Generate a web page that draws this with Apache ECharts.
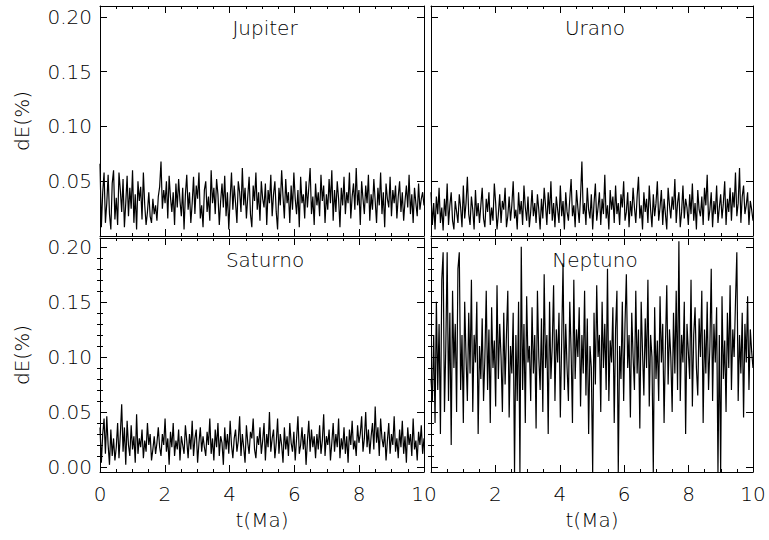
<!DOCTYPE html>
<html><head><meta charset="utf-8">
<script src="https://cdn.jsdelivr.net/npm/echarts@6/dist/echarts.min.js"></script>
<style>html,body{margin:0;padding:0;background:#fff}#c{width:769px;height:540px}</style>
</head><body><div id="c"></div>
<script>
// dE(%) sampled evenly over t = 0..10 Ma
const jupiter = [
0.066,0.008,0.040,0.058,0.012,0.030,0.056,0.020,0.006,0.048,0.060,0.015,0.035,0.010,0.058,0.042,0.022,0.052,0.008,0.030,
0.055,0.018,0.044,0.025,0.060,0.012,0.038,0.006,0.050,0.032,0.045,0.015,0.058,0.028,0.010,0.022,0.040,0.018,0.012,0.034,
0.020,0.028,0.014,0.036,0.045,0.068,0.025,0.042,0.030,0.050,0.016,0.055,0.035,0.022,0.040,0.010,0.048,0.026,0.052,0.032,
0.018,0.044,0.006,0.038,0.056,0.024,0.040,0.012,0.030,0.054,0.020,0.046,0.034,0.058,0.016,0.028,0.008,0.042,0.050,0.022,
0.036,0.014,0.060,0.030,0.044,0.020,0.052,0.038,0.010,0.032,0.048,0.026,0.055,0.018,0.040,0.006,0.034,0.058,0.024,0.046,
0.030,0.012,0.050,0.040,0.022,0.062,0.028,0.044,0.016,0.036,0.054,0.020,0.008,0.046,0.032,0.058,0.024,0.040,0.014,0.050,
0.034,0.026,0.048,0.010,0.042,0.030,0.056,0.018,0.038,0.050,0.022,0.006,0.044,0.028,0.060,0.036,0.016,0.052,0.030,0.040,
0.012,0.046,0.024,0.058,0.034,0.020,0.042,0.008,0.054,0.030,0.038,0.016,0.050,0.026,0.044,0.062,0.020,0.036,0.010,0.048,
0.028,0.040,0.018,0.056,0.032,0.046,0.012,0.038,0.024,0.052,0.030,0.060,0.014,0.042,0.022,0.050,0.034,0.008,0.044,0.028,
0.054,0.020,0.040,0.030,0.058,0.016,0.036,0.048,0.024,0.062,0.028,0.042,0.010,0.050,0.034,0.020,0.046,0.030,0.056,0.014,
0.038,0.024,0.052,0.032,0.012,0.044,0.028,0.058,0.020,0.040,0.008,0.048,0.034,0.026,0.054,0.018,0.042,0.030,0.046,0.016,
0.036,0.050,0.022,0.040,0.014,0.032,0.046,0.026,0.056,0.020,0.038,0.012,0.044,0.030,0.018,0.048,0.024,0.034,0.040,0.028];
const urano = [
0.040,0.010,0.030,0.006,0.036,0.020,0.044,0.012,0.026,0.005,0.034,0.018,0.048,0.010,0.028,0.040,0.014,0.006,0.032,0.022,
0.012,0.038,0.026,0.008,0.046,0.016,0.030,0.054,0.020,0.010,0.036,0.024,0.006,0.042,0.018,0.030,0.012,0.028,0.044,0.016,
0.008,0.034,0.022,0.040,0.010,0.026,0.014,0.048,0.030,0.006,0.020,0.038,0.012,0.032,0.024,0.044,0.008,0.018,0.036,0.014,
0.028,0.050,0.016,0.024,0.006,0.040,0.020,0.032,0.010,0.046,0.026,0.014,0.036,0.008,0.022,0.042,0.018,0.030,0.012,0.038,
0.024,0.006,0.034,0.016,0.044,0.028,0.010,0.040,0.020,0.050,0.014,0.030,0.008,0.036,0.024,0.012,0.046,0.018,0.032,0.006,
0.040,0.022,0.014,0.034,0.052,0.018,0.028,0.008,0.042,0.026,0.012,0.036,0.068,0.020,0.030,0.010,0.044,0.024,0.016,0.038,
0.006,0.030,0.048,0.014,0.026,0.040,0.010,0.034,0.020,0.056,0.016,0.028,0.006,0.042,0.024,0.036,0.012,0.046,0.020,0.030,
0.010,0.038,0.026,0.050,0.014,0.022,0.040,0.008,0.032,0.018,0.044,0.026,0.012,0.036,0.054,0.016,0.028,0.006,0.040,0.022,
0.034,0.012,0.046,0.024,0.008,0.038,0.018,0.030,0.050,0.014,0.026,0.042,0.010,0.034,0.020,0.006,0.044,0.028,0.016,0.036,
0.024,0.052,0.012,0.030,0.040,0.008,0.022,0.046,0.016,0.034,0.026,0.010,0.038,0.020,0.048,0.014,0.030,0.006,0.042,0.024,
0.018,0.036,0.010,0.044,0.028,0.056,0.014,0.024,0.040,0.008,0.032,0.020,0.046,0.012,0.026,0.038,0.016,0.030,0.050,0.010,
0.034,0.022,0.044,0.014,0.040,0.026,0.058,0.018,0.030,0.062,0.012,0.036,0.046,0.020,0.028,0.040,0.010,0.032,0.024,0.014];
const saturno = [
0.036,0.004,0.030,0.044,0.012,0.046,0.020,0.002,0.034,0.010,0.026,0.006,0.018,0.040,0.008,0.030,0.057,0.014,0.036,0.002,
0.042,0.020,0.010,0.038,0.016,0.028,0.004,0.048,0.012,0.026,0.018,0.034,0.008,0.024,0.014,0.040,0.020,0.030,0.006,0.016,
0.028,0.012,0.022,0.036,0.018,0.010,0.030,0.020,0.044,0.014,0.026,0.002,0.032,0.018,0.040,0.010,0.024,0.016,0.034,0.006,
0.028,0.020,0.012,0.038,0.024,0.008,0.030,0.016,0.042,0.010,0.026,0.034,0.004,0.022,0.036,0.014,0.028,0.018,0.010,0.032,
0.020,0.044,0.012,0.026,0.006,0.034,0.018,0.040,0.010,0.028,0.022,0.002,0.036,0.016,0.030,0.012,0.042,0.020,0.008,0.026,
0.034,0.014,0.024,0.046,0.010,0.030,0.018,0.004,0.038,0.022,0.012,0.032,0.026,0.044,0.016,0.008,0.028,0.020,0.036,0.012,
0.024,0.040,0.006,0.030,0.018,0.050,0.014,0.026,0.034,0.008,0.022,0.044,0.012,0.030,0.020,0.004,0.036,0.016,0.028,0.010,
0.040,0.022,0.014,0.032,0.006,0.026,0.046,0.012,0.020,0.036,0.016,0.030,0.002,0.024,0.042,0.014,0.034,0.018,0.028,0.008,
0.030,0.016,0.038,0.012,0.024,0.048,0.010,0.028,0.020,0.034,0.006,0.022,0.040,0.014,0.030,0.018,0.044,0.008,0.026,0.016,
0.036,0.012,0.028,0.004,0.034,0.020,0.042,0.016,0.024,0.010,0.038,0.022,0.030,0.046,0.014,0.026,0.050,0.018,0.034,0.012,
0.028,0.040,0.016,0.055,0.022,0.036,0.010,0.044,0.026,0.018,0.032,0.006,0.024,0.040,0.012,0.030,0.020,0.046,0.014,0.026,
0.008,0.034,0.018,0.042,0.012,0.028,0.004,0.036,0.020,0.030,0.010,0.044,0.016,0.024,0.006,0.032,0.020,0.038,0.012,0.026];
const neptuno = [
0.080,0.060,0.120,0.040,0.150,0.070,0.130,0.030,0.170,0.195,0.050,0.110,0.195,0.060,0.140,0.020,0.160,0.090,0.130,0.050,
0.180,0.195,0.070,0.120,0.040,0.150,0.100,0.060,0.140,0.085,0.170,0.050,0.120,0.095,0.150,0.030,0.110,0.080,0.135,0.060,
0.100,0.160,0.070,0.125,0.040,0.145,0.090,0.115,0.055,0.165,0.080,0.130,0.100,0.050,0.140,0.075,0.120,0.160,0.045,0.110,
0.085,0.140,-0.005,0.120,0.060,0.150,-0.005,0.200,0.070,0.130,0.040,0.155,0.095,0.110,0.060,0.145,0.085,0.120,0.035,0.160,
0.100,0.070,0.135,0.050,0.175,0.090,0.120,0.030,0.150,0.080,0.110,0.165,0.060,0.125,0.095,0.140,0.045,0.115,0.185,0.070,
0.130,0.090,0.060,0.150,0.105,0.040,0.170,0.080,0.125,0.100,0.145,0.055,0.120,0.085,0.160,0.065,0.135,0.030,0.110,0.090,
-0.005,0.140,0.075,0.165,0.100,0.120,0.050,0.150,0.090,0.130,0.070,0.180,0.060,0.115,0.095,0.145,0.040,0.125,0.160,-0.005,
0.110,0.080,0.150,0.060,0.130,0.175,0.090,0.120,0.045,0.140,0.100,0.070,0.160,0.085,0.125,0.035,0.150,0.105,0.065,0.135,
0.090,0.170,0.055,0.120,0.100,-0.005,0.145,0.080,0.115,0.060,0.155,0.095,0.130,0.040,0.110,0.165,0.075,0.125,0.100,0.050,
0.140,0.085,0.160,0.070,0.205,0.060,0.120,0.095,0.150,0.030,0.130,0.105,0.080,0.170,0.055,0.120,0.145,0.090,0.065,0.135,
0.100,0.160,0.040,0.125,0.085,0.150,0.070,0.110,0.180,0.060,0.130,0.095,0.145,-0.005,0.120,-0.005,0.155,0.080,0.115,0.050,
0.140,0.090,0.165,0.070,0.125,0.100,0.150,0.195,0.060,0.120,0.085,0.140,0.045,0.130,0.095,0.155,0.070,0.125,0.105,0.090];
const panelNames = ['Jupiter','Urano','Saturno','Neptuno'];
const yTickValues = [0, 0.05, 0.10, 0.15, 0.20];
const yMinorValues = [0.01,0.02,0.03,0.04,0.06,0.07,0.08,0.09,0.11,0.12,0.13,0.14,0.16,0.17,0.18,0.19];
const tMin = 0, tMax = 10, tStep = 2;

const FONT = 'DejaVu Sans';
const series = [jupiter, urano, saturno, neptuno];
const grids = [
  {left:100, top:6, width:324, height:230},
  {left:431, top:6, width:322, height:230},
  {left:100, top:238, width:324, height:234},
  {left:431, top:238, width:322, height:234}
];
const ax = {show:true, onZero:false, lineStyle:{color:'#000', width:1}};
const lbl = {color:'#000', fontFamily:FONT, fontSize:20, fontWeight:200};
const xAxes = [], yAxes = [], ser = [];
grids.forEach((g, k) => {
  const bottom = k >= 2, left = k % 2 === 0;
  const xi = xAxes.length;
  xAxes.push({type:'value', gridIndex:k, min:tMin, max:tMax, interval:tStep, position:'bottom',
    axisLine:ax, axisTick:{inside:true, length:7, lineStyle:{color:'#000'}},
    minorTick:{show:true, splitNumber:4, length:3, lineStyle:{color:'#000'}},
    splitLine:{show:false},
    axisLabel:Object.assign({show:bottom, margin:12, showMinLabel:left}, lbl),
    name: bottom ? 't(Ma)' : '', nameLocation:'middle', nameGap:38,
    nameTextStyle:Object.assign({}, lbl)});
  xAxes.push({type:'value', gridIndex:k, min:tMin, max:tMax, interval:tStep, position:'top',
    axisLine:ax, axisTick:{inside:true, length:7, lineStyle:{color:'#000'}},
    minorTick:{show:true, splitNumber:4, length:3, lineStyle:{color:'#000'}},
    splitLine:{show:false}, axisLabel:{show:false}});
  const ymin = bottom ? -0.0045 : 0, ymax = bottom ? 0.208 : 0.21;
  const yi = yAxes.length;
  ['left','right'].forEach(pos => {
    yAxes.push({type:'value', gridIndex:k, min:ymin, max:ymax, position:pos,
      axisLine:ax,
      axisTick:{inside:true, length:7, customValues:yTickValues, lineStyle:{color:'#000'}},
      splitLine:{show:false},
      axisLabel:Object.assign({show:left && pos==='left', margin:8, customValues: bottom ? yTickValues : yTickValues.slice(1),
        formatter:v => v.toFixed(2)}, lbl),
      name: (left && pos==='left') ? 'dE(%)' : '', nameLocation:'middle', nameGap:68, nameRotate:90,
      nameTextStyle:Object.assign({}, lbl)});
    if (bottom) {
      yAxes.push({type:'value', gridIndex:k, min:ymin, max:ymax, position:pos,
        axisLine:{show:false},
        axisTick:{inside:true, length:3, customValues:yMinorValues, lineStyle:{color:'#000'}},
        splitLine:{show:false}, axisLabel:{show:false}});
    }
  });
  const vals = series[k];
  ser.push({type:'line', xAxisIndex:xi, yAxisIndex:yi, showSymbol:false, symbol:'none',
    lineStyle:{color:'#000', width:1.2}, clip:true, z:3,
    data: vals.map((v, i) => [tMin + i * (tMax - tMin) / (vals.length - 1), v])});
});
const titles = panelNames.map((n, k) => ({text:n, left:grids[k].left + grids[k].width/2 - 2, top:grids[k].top + 7,
  textAlign:'center', z:0, textStyle:Object.assign({}, lbl, {fontSize:20})}));

const chart = echarts.init(document.getElementById('c'), null, {renderer:'svg'});
chart.setOption({
  animation:false, backgroundColor:'#fff',
  title:titles, grid:grids, xAxis:xAxes, yAxis:yAxes, series:ser
});
</script></body></html>
